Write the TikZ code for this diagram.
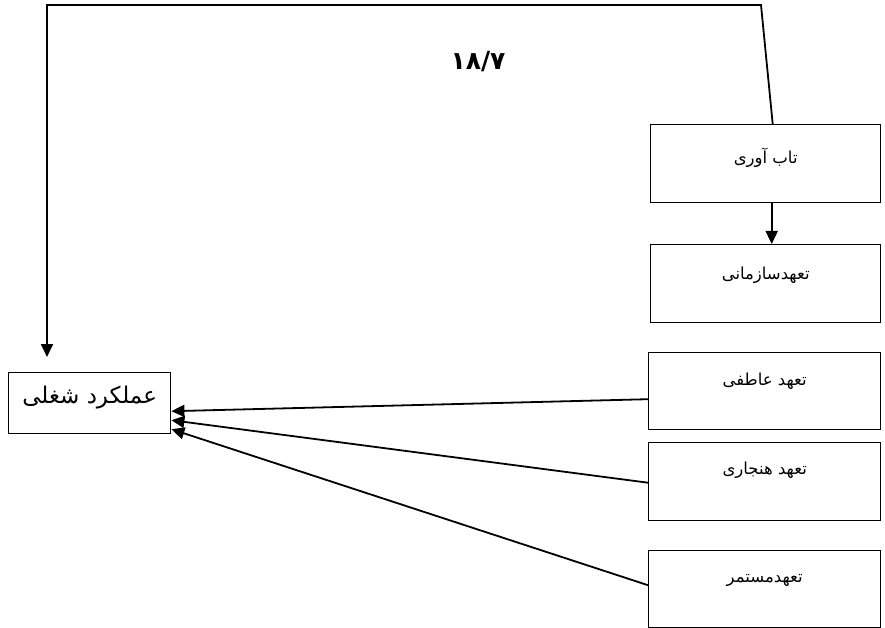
\documentclass[tikz,border=0pt]{standalone}
\usepackage{fontspec}
\usetikzlibrary{arrows.meta}
\TeXXeTstate=1
\newfontfamily\arabicfont[Script=Arabic]{DejaVu Sans}
\begin{document}
\begin{tikzpicture}[x=1pt,y=-1pt,
  box/.style={draw, line width=1.4pt, anchor=north west, inner sep=0pt},
  txt/.style={font=\arabicfont\fontsize{16.5}{18}\selectfont},
  conn/.style={line width=1.8pt, -{Triangle[length=13pt,width=12pt]}}]
\useasboundingbox (0,0) rectangle (885,628);
\node[box, minimum width=230pt, minimum height=78pt,
  label={[txt, yshift=6pt]center:\beginR تاب آوری\endR}] (b1) at (650,124) {};
\node[box, minimum width=230pt, minimum height=78pt,
  label={[txt, yshift=8pt]center:\beginR تعهدسازمانی\endR}] (b2) at (650,244) {};
\node[box, minimum width=232pt, minimum height=77pt,
  label={[txt, yshift=10pt]center:\beginR تعهد عاطفی\endR}] (b3) at (648,352) {};
\node[box, minimum width=232pt, minimum height=78pt,
  label={[txt, yshift=11pt]center:\beginR تعهد هنجاری\endR}] (b4) at (648,442) {};
\node[box, minimum width=232pt, minimum height=77pt,
  label={[txt, yshift=9pt]center:\beginR تعهدمستمر\endR}] (b5) at (648,550) {};
\node[box, minimum width=162pt, minimum height=61pt,
  label={[font=\arabicfont\fontsize{23}{26}\selectfont, yshift=6pt]center:\beginR عملکرد شغلی\endR}] (perf) at (8,372) {};
\node[font=\arabicfont\bfseries\fontsize{25}{28}\selectfont] (val) at (478,62) {۱۸/۷};
\coordinate (tr) at (761,5);
\coordinate (tl) at (47,5);
\draw[conn, shorten >=15pt] ([xshift=7pt]b1.north) -- (tr) -- (tl) -- (tl |- perf.north);
\draw[conn] ([xshift=6pt]b1.south) -- ([xshift=6pt]b2.north);
\draw[conn] ([yshift=-8pt]b3.west) -- ([yshift=-8pt]perf.east);
\draw[conn] ([yshift=-1pt]b4.west) -- ([yshift=-17pt]perf.east);
\draw[conn] ([yshift=4pt]b5.west) -- ([yshift=-26pt]perf.east);
\end{tikzpicture}
\end{document}
